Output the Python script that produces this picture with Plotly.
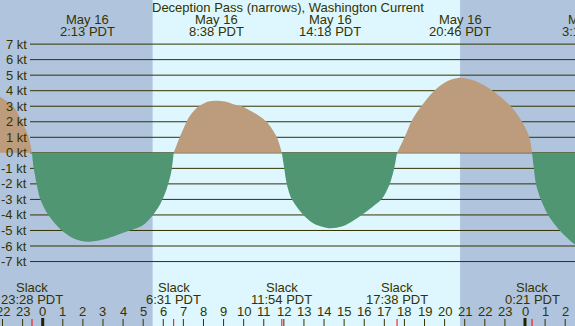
import plotly.graph_objects as go

# ---------------- data ----------------
TITLE = "Deception Pass (narrows), Washington Current"

# hours since midnight May 16 (PDT) and current speed in knots (+ flood, - ebb)
hours = [-2.6, -2.12, -1.46, -1.04, -0.72, -0.533,
         -0.47, -0.30, -0.13, 0.28, 0.95, 1.6, 2.27, 2.95, 3.68, 4.34, 4.99, 5.49, 5.85, 6.15, 6.4, 6.517,
         6.83, 7.16, 7.33, 7.74, 8.24, 8.63, 9.07, 9.57, 9.9, 10.56, 11.14, 11.64, 11.9,
         12.02, 12.14, 12.39, 12.97, 13.55, 14.3, 14.88, 15.37, 15.87, 16.39, 16.87, 17.28, 17.49, 17.633,
         18.02, 18.36, 18.86, 19.52, 20.1, 20.77, 21.59, 22.34, 23.26, 23.83, 24.21, 24.35,
         24.44, 24.54, 24.78, 25.15, 25.73, 26.48, 26.9]
speeds = [3.9, 3.6, 3.0, 2.05, 1.1, 0.0,
          -0.8, -2.0, -2.95, -4.0, -5.0, -5.55, -5.73, -5.6, -5.3, -5.0, -4.66, -4.0, -3.3, -2.4, -1.2, 0.0,
          1.03, 2.0, 2.4, 2.97, 3.3, 3.36, 3.3, 3.1, 3.0, 2.55, 2.0, 1.03, 0.0,
          -1.0, -1.97, -2.98, -4.0, -4.6, -4.86, -4.75, -4.44, -4.0, -3.5, -2.98, -1.97, -1.0, 0.0,
          1.03, 2.05, 3.04, 4.05, 4.6, 4.84, 4.6, 4.05, 3.04, 2.05, 1.03, 0.0,
          -1.0, -1.97, -2.98, -4.0, -5.0, -5.9, -6.15]

# max current events (top labels)
max_hours = [2.217, 8.633, 14.3, 20.767, 27.2]
max_dates = ["May 16", "May 16", "May 16", "May 16", "May 17"]
max_labels = ["2:13 PDT", "8:38 PDT", "14:18 PDT", "20:46 PDT", "3:12 PDT"]

# slack events (bottom labels)
slack_hours = [-0.533, 6.517, 11.9, 17.633, 24.35]
slack_labels = ["23:28 PDT", "6:31 PDT", "11:54 PDT", "17:38 PDT", "0:21 PDT"]

# daylight
sunrise = 5.47
sunset = 20.77

y_ticks = [7, 6, 5, 4, 3, 2, 1, 0, -1, -2, -3, -4, -5, -6, -7]
hour_ticks = list(range(-2, 27))

# ---------------- styling ----------------
W, H = 575, 326
X0, X1 = -2.125, 26.488
Y0, Y1 = -11.15, 9.84
NIGHT = "#B0C4DE"
DAY = "#DEF6FD"
FLOOD = "#BC9C7C"
EBB = "#509672"
INK = "#333300"
FONT = "Liberation Sans, Arial, sans-serif"


def py(pix):
    return 1 - pix / H


def px(pix):
    return pix / W


fig = go.Figure()

# split series into lobes at zero crossings
segs = []
cur_x, cur_y = [], []
for h, v in zip(hours, speeds):
    cur_x.append(h)
    cur_y.append(v)
    if v == 0 and len(cur_x) > 1:
        segs.append((cur_x, cur_y))
        cur_x, cur_y = [h], [v]
if len(cur_x) > 1:
    segs.append((cur_x, cur_y))

for sx, sy in segs:
    pos = sum(sy) > 0
    fig.add_trace(go.Scatter(
        x=sx, y=sy, mode="lines", fill="tozeroy",
        line=dict(width=0, shape="spline", smoothing=0.8,
                  color=FLOOD if pos else EBB),
        fillcolor=FLOOD if pos else EBB,
        hoverinfo="skip", showlegend=False))

shapes = []
# daylight band
shapes.append(dict(type="rect", xref="x", yref="paper", x0=sunrise, x1=sunset,
                   y0=0, y1=1, fillcolor=DAY, line=dict(width=0), layer="below"))
# grid lines
for v in y_ticks:
    shapes.append(dict(type="line", xref="paper", yref="y", x0=px(30), x1=1,
                       y0=v, y1=v, line=dict(color=INK, width=1), layer="below"))
# hour ticks
for h in hour_ticks:
    mid = (h % 24 == 0)
    shapes.append(dict(type="line", xref="x", yref="paper", x0=h, x1=h,
                       y0=0, y1=py(319) if not mid else py(318),
                       line=dict(color=INK if not mid else "#222200", width=3 if mid else 1)))
for h in slack_hours:
    shapes.append(dict(type="line", xref="x", yref="paper", x0=h, x1=h,
                       y0=0, y1=py(319), line=dict(color="#FF0000", width=1)))

ann = []
f13 = dict(family=FONT, size=13, color=INK)
ann.append(dict(text=TITLE, xref="paper", yref="paper", x=0.5, y=py(7.5),
                showarrow=False, font=f13, xanchor="center", yanchor="middle"))
for h, d, t in zip(max_hours, max_dates, max_labels):
    xp = (h - X0) / (X1 - X0)
    ann.append(dict(text=d, xref="paper", yref="paper", x=xp, y=py(19.5),
                    showarrow=False, font=f13, xanchor="center", yanchor="middle"))
    ann.append(dict(text=t, xref="paper", yref="paper", x=xp, y=py(31.5),
                    showarrow=False, font=f13, xanchor="center", yanchor="middle"))
for h, t in zip(slack_hours, slack_labels):
    xp = (h - X0) / (X1 - X0)
    ann.append(dict(text="Slack", xref="paper", yref="paper", x=xp, y=py(287.5),
                    showarrow=False, font=f13, xanchor="center", yanchor="middle"))
    ann.append(dict(text=t, xref="paper", yref="paper", x=xp, y=py(299.5),
                    showarrow=False, font=f13, xanchor="center", yanchor="middle"))
for h in hour_ticks:
    xp = (h - X0) / (X1 - X0)
    ann.append(dict(text=str(h % 24), xref="paper", yref="paper", x=xp, y=py(311.5),
                    showarrow=False, font=f13, xanchor="center", yanchor="middle"))
for v in y_ticks:
    ann.append(dict(text=f"{v} kt", xref="paper", yref="y", x=px(29), y=v,
                    showarrow=False, font=f13, xanchor="right", yanchor="middle"))

fig.update_layout(
    width=W, height=H, margin=dict(l=0, r=0, t=0, b=0),
    paper_bgcolor=NIGHT, plot_bgcolor=NIGHT,
    xaxis=dict(range=[X0, X1], visible=False, fixedrange=True),
    yaxis=dict(range=[Y0, Y1], visible=False, fixedrange=True),
    shapes=shapes, annotations=ann, showlegend=False,
)

fig.write_html("out.html", config={"displayModeBar": False},
               post_script="document.body.style.margin='0px';document.body.style.overflow='hidden';")
